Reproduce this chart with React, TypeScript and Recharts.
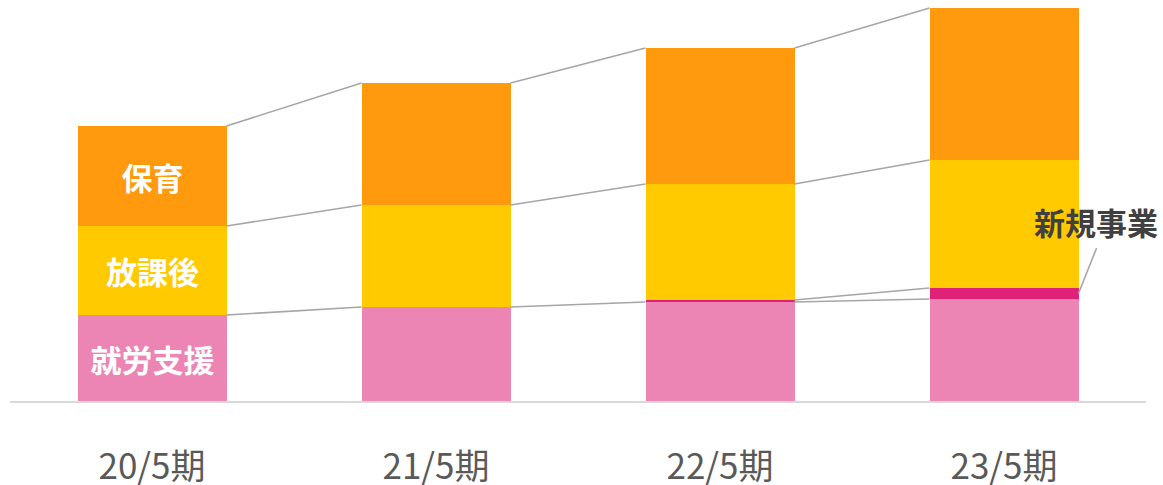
import React from 'react';
import { BarChart, Bar, XAxis, YAxis, ReferenceLine, ReferenceDot } from 'recharts';

const categories = ['20/5期', '21/5期', '22/5期', '23/5期'];
const shuro = [87, 95, 100, 103];
const shinki = [0, 0, 2, 11];
const hokago = [89, 102, 116, 128];
const hoiku = [100, 122, 136, 152];

const seriesNames = { shuro: '就労支援', shinki: '新規事業', hokago: '放課後', hoiku: '保育' };
const colors = { shuro: '#EC84B4', shinki: '#DF2278', hokago: '#FFCA00', hoiku: '#FF990D' };

const data = categories.map((c, i) => ({
  x: i,
  name: c,
  shuro: shuro[i],
  shinki: shinki[i],
  hokago: hokago[i],
  hoiku: hoiku[i],
}));

const FONT = '"Noto Sans CJK JP", "Noto Sans", sans-serif';
const BAR_SIZE = 149;
const STEP_PX = 284;
const HALF = BAR_SIZE / 2 / STEP_PX;

const keys = ['shuro', 'shinki', 'hokago', 'hoiku'] as const;

const cum = (i: number, k: number) => {
  let s = 0;
  for (let j = 0; j <= k; j++) s += (data[i] as any)[keys[j]];
  return s;
};

const segments: { a: any; b: any; key: string }[] = [];
for (let i = 0; i < data.length - 1; i++) {
  keys.forEach((k, ki) => {
    if ((data[i] as any)[k] <= 0) return;
    segments.push({
      key: `${k}-${i}`,
      a: { x: i + HALF, y: cum(i, ki) },
      b: { x: i + 1 - HALF, y: cum(i + 1, ki) },
    });
  });
}

const inBarLabel = (name: string) => (props: any) => {
  const { x, y, width, height, index } = props;
  if (index !== 0) return null;
  return (
    <text
      x={x + width / 2}
      y={y + height / 2}
      textAnchor="middle"
      dominantBaseline="central"
      fill="#ffffff"
      fontSize={31}
      fontWeight="bold"
      fontFamily={FONT}
    >
      {name}
    </text>
  );
};

const Tick = (props: any) => {
  const { x, y, payload } = props;
  return (
    <text
      x={x}
      y={y + 61}
      textAnchor="middle"
      dominantBaseline="central"
      fill="#595959"
      fontSize={35}
      fontFamily={FONT}
    >
      {categories[payload.value]}
    </text>
  );
};

const last = data.length - 1;

export default function App() {
  return (
    <div style={{ position: 'absolute', left: 0, top: 0 }}>
      <BarChart
        width={1163}
        height={485}
        data={data}
        margin={{ top: 8, right: 17, bottom: 0, left: 10 }}
      >
        <XAxis
          dataKey="x"
          type="number"
          domain={[-0.5, 3.5]}
          ticks={[0, 1, 2, 3]}
          height={83}
          tickLine={false}
          tickSize={0}
          tickMargin={0}
          axisLine={{ stroke: '#D9D9D9', strokeWidth: 2 }}
          tick={<Tick />}
          interval={0}
        />
        <YAxis hide type="number" domain={[0, 394]} />
        {keys.map((k) => (
          <Bar
            key={k}
            dataKey={k}
            stackId="a"
            fill={colors[k]}
            barSize={BAR_SIZE}
            isAnimationActive={false}
            label={k === 'shinki' ? undefined : inBarLabel(seriesNames[k])}
          />
        ))}
        {segments.map((s) => (
          <ReferenceLine
            key={s.key}
            segment={[s.a, s.b]}
            stroke="#A6A6A6"
            strokeWidth={1.6}
            ifOverflow="visible"
          />
        ))}
        <ReferenceLine
          segment={[
            { x: last + HALF, y: cum(last, 0) + shinki[last] / 2 },
            { x: last + 0.326, y: 154 },
          ]}
          stroke="#A6A6A6"
          strokeWidth={1.6}
          ifOverflow="visible"
        />
        <ReferenceDot
          x={last + 0.324}
          y={181}
          r={0}
          ifOverflow="visible"
          shape={(p: any) => (
            <text
              x={p.cx}
              y={p.cy}
              textAnchor="middle"
              dominantBaseline="central"
              fill="#404040"
              fontSize={31}
              fontWeight="bold"
              fontFamily={FONT}
            >
              {seriesNames.shinki}
            </text>
          )}
        />
      </BarChart>
    </div>
  );
}
